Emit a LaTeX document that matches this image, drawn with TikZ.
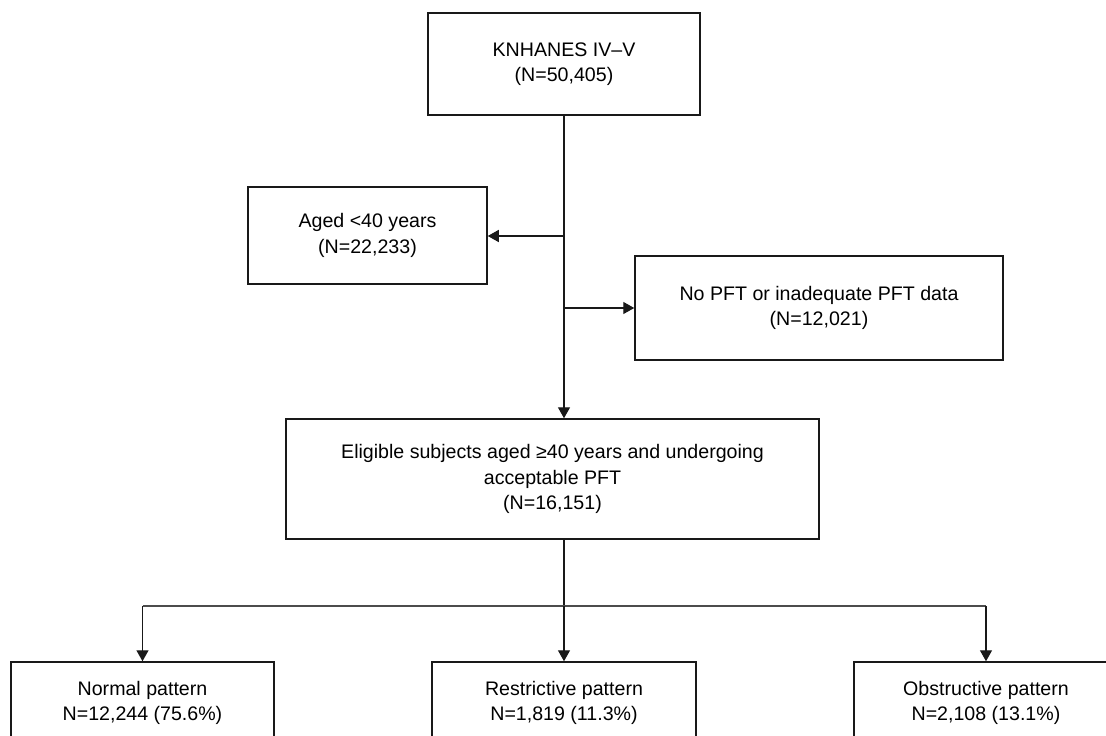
\documentclass[tikz,border=0pt]{standalone}
\usepackage{fontspec}
\setmainfont{Liberation Sans}
\usetikzlibrary{arrows.meta}
\begin{document}
\begin{tikzpicture}[x=1pt,y=-1pt,
  box/.style={draw=black!90, line width=1.5pt, align=center, inner sep=0pt,
    font=\fontsize{19.6}{25.5}\selectfont},
  conn/.style={line width=1.4pt, draw=black!90},
  arr/.style={conn, -{Triangle[length=11pt,width=12pt]}},
  branch/.style={line width=2.4pt, draw=black!70}
]
\useasboundingbox (0,0) rectangle (1106,736);
\begin{scope}
\clip (0,0) rectangle (1106,736);
\node[box, minimum width=272pt, minimum height=102pt] (top) at (564,64) {KNHANES IV–V\\(N=50,405)};
\node[box, minimum width=239pt, minimum height=97pt] (aged) at (367.5,235.5) {Aged <40 years\\(N=22,233)};
\node[box, minimum width=368pt, minimum height=104pt] (nopft) at (819,308) {No PFT or inadequate PFT data\\(N=12,021)};
\node[box, minimum width=533pt, minimum height=120pt] (elig) at (552.5,479) {Eligible subjects aged ≥40 years and undergoing\\acceptable PFT\\(N=16,151)};
\node[box, minimum width=263pt, minimum height=82pt] (normal) at (142.5,703) {Normal pattern\\N=12,244 (75.6\%)};
\node[box, minimum width=264pt, minimum height=82pt] (restr) at (564,703) {Restrictive pattern\\N=1,819 (11.3\%)};
\node[box, minimum width=264pt, minimum height=82pt] (obstr) at (986,703) {Obstructive pattern\\N=2,108 (13.1\%)};

\coordinate (c1) at (564,236);
\coordinate (c2) at (564,308);
\coordinate (br) at (564,606);

\draw[arr] (top.south) -- (top.south |- elig.north);
\draw[arr] (c1) -- (aged.east |- c1);
\draw[arr] (c2) -- (nopft.west |- c2);
\draw[conn] (top.south |- elig.south) -- (br);
\draw[branch] (normal.north |- br) -- (obstr.north |- br);
\draw[arr] (br) -- (restr.north);
\draw[arr] (normal.north |- br) -- (normal.north);
\draw[arr] (obstr.north |- br) -- (obstr.north);
\end{scope}
\end{tikzpicture}
\end{document}
